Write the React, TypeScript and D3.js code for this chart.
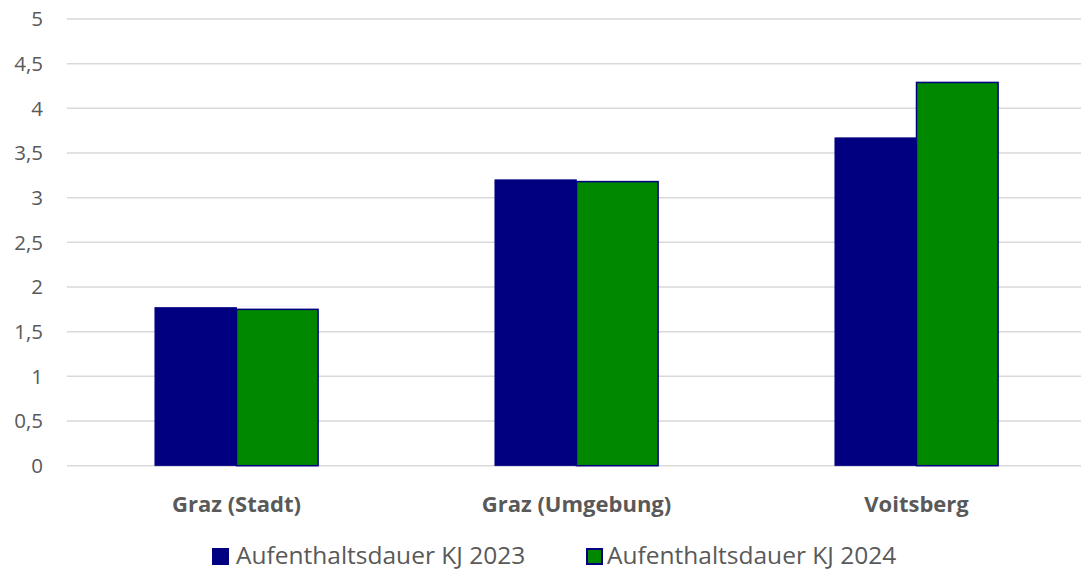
import React from "react";
import * as d3 from "d3";

const categories = ["Graz (Stadt)", "Graz (Umgebung)", "Voitsberg"];
const series2023 = [1.77, 3.2, 3.67];
const series2024 = [1.75, 3.18, 4.29];
const seriesNames = ["Aufenthaltsdauer KJ 2023", "Aufenthaltsdauer KJ 2024"];
const yTicks = [0, 0.5, 1, 1.5, 2, 2.5, 3, 3.5, 4, 4.5, 5];

const W = 1081;
const H = 570;
const FONT = "'Open Sans', 'Noto Sans', sans-serif";
const COLORS = ["#000080", "#008800"];

export default function App() {
  const x0 = d3.scaleBand<string>().domain(categories).range([66.5, 1086.5]).paddingInner(0.52).paddingOuter(0.26);
  const x1 = d3.scaleBand<string>().domain(["0", "1"]).range([0, x0.bandwidth()]).padding(0);
  const y = d3.scaleLinear().domain([0, 5]).range([465.7, 19]);
  const fmt = (v: number) => String(v).replace(".", ",");
  const seriesData = [series2023, series2024];

  return (
    <div style={{ position: "absolute", left: 0, top: 0 }}>
      <svg width={W} height={H} style={{ display: "block", background: "#fff" }}>
        {yTicks.map((t) => (
          <g key={t}>
            <line x1={67} x2={W} y1={y(t)} y2={y(t)} stroke="#d9d9d9" strokeWidth={1.5} />
            <text x={43} y={y(t)} dy="0.35em" textAnchor="end" fontFamily={FONT} fontSize={20.5} fill="#595959">
              {fmt(t)}
            </text>
          </g>
        ))}
        {categories.map((c, i) => (
          <g key={c} transform={`translate(${x0(c)},0)`}>
            {seriesData.map((s, j) => (
              <rect
                key={j}
                x={x1(String(j))!}
                y={y(s[i])}
                width={x1.bandwidth()}
                height={y(0) - y(s[i])}
                fill={COLORS[j]}
                stroke="#000080"
                strokeWidth={j === 1 ? 1.5 : 0.75}
              />
            ))}
            <text
              x={x0.bandwidth() / 2}
              y={504}
              dy="0.35em"
              textAnchor="middle"
              fontFamily={FONT}
              fontWeight="bold"
              fontSize={22}
              fill="#595959"
            >
              {c}
            </text>
          </g>
        ))}
        <g>
          <rect x={212} y={548} width={17} height={17} fill={COLORS[0]} />
          <text x={236} y={555} dy="0.35em" fontFamily={FONT} fontSize={24.5} fill="#595959">
            {seriesNames[0]}
          </text>
          <rect x={587} y={549} width={15} height={15} fill={COLORS[1]} stroke="#000080" strokeWidth={2} />
          <text x={607} y={555} dy="0.35em" fontFamily={FONT} fontSize={24.5} fill="#595959">
            {seriesNames[1]}
          </text>
        </g>
      </svg>
    </div>
  );
}
